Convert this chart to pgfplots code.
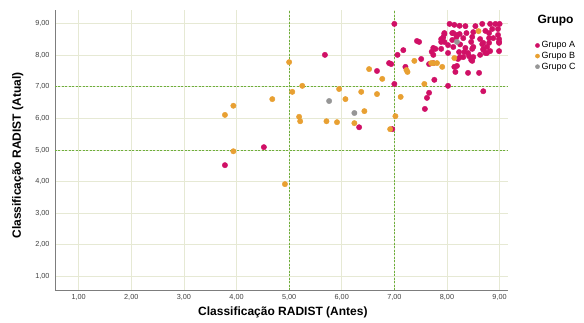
\documentclass[border=0pt]{standalone}
\usepackage{fontspec}
\setmainfont{Liberation Sans}
\usepackage{pgfplots}
\pgfplotsset{compat=1.18}
\definecolor{grpA}{RGB}{208,16,102}
\definecolor{grpB}{RGB}{232,160,50}
\definecolor{grpC}{RGB}{150,150,150}
\definecolor{gridc}{RGB}{230,233,212}
\definecolor{refg}{RGB}{110,175,60}
\definecolor{axg}{RGB}{125,125,125}
\begin{document}
\begin{tikzpicture}
\begin{axis}[
  scale only axis, width=453pt, height=280pt,
  xmin=0.55, xmax=9.16, ymin=0.57, ymax=9.43,
  xtick={1,2,3,4,5,6,7,8,9}, ytick={1,2,3,4,5,6,7,8,9},
  axis lines*=left,
  axis line style={-, draw=axg, line width=0.6pt},
  major tick length=0pt,
  grid=major,
  major grid style={draw=gridc, line width=0.7pt},
  /pgf/number format/fixed,
  /pgf/number format/fixed zerofill,
  /pgf/number format/precision=2,
  /pgf/number format/use comma,
  /pgf/number format/assume math mode=true,
  ticklabel style={font=\fontsize{7.3}{9}\selectfont, text=black!75},
  xticklabel style={yshift=-1pt},
  yticklabel style={xshift=-2pt},
  xlabel={Classificação RADIST (Antes)},
  ylabel={Classificação RADIST (Atual)},
  every axis x label/.style={at={(axis description cs:0.503,-0.08)}, anchor=center, font=\fontsize{12}{14}\selectfont\bfseries},
  every axis y label/.style={at={(axis description cs:-0.082,0.48)}, anchor=center, rotate=90, font=\fontsize{12}{14}\selectfont\bfseries},
  legend style={at={(axis description cs:1.060,0.895)}, anchor=north west,
    draw=none, fill=none, font=\fontsize{9}{10}\selectfont,
    row sep=-1.2pt, inner sep=0pt, cells={anchor=west}},
  legend image code/.code={\draw[#1] plot coordinates {(0pt,0pt)};},
  legend image post style={mark size=2.1pt},
  clip=false,
]
\draw[refg, line width=0.8pt, dash pattern=on 2pt off 1.5pt] (axis cs:5,0.57) -- (axis cs:5,9.43);
\draw[refg, line width=0.8pt, dash pattern=on 2pt off 1.5pt] (axis cs:7,0.57) -- (axis cs:7,9.43);
\draw[refg, line width=0.8pt, dash pattern=on 2pt off 1.5pt] (axis cs:0.55,5) -- (axis cs:9.16,5);
\draw[refg, line width=0.8pt, dash pattern=on 2pt off 1.5pt] (axis cs:0.55,7) -- (axis cs:9.16,7);

\addplot[only marks, mark=*, mark size=2.7pt, mark options={draw=grpA, fill=grpA}] table {
x y
3.78 4.52
4.52 5.09
5.68 8.01
6.67 7.50
6.90 7.75
6.94 7.72
7.00 7.09
6.33 5.72
6.96 5.66
7.06 8.01
7.00 8.99
7.17 8.16
7.21 7.63
7.43 8.45
7.47 8.42
7.51 7.88
7.66 7.72
7.76 7.22
8.02 7.03
7.66 6.81
7.62 6.65
7.58 6.30
8.69 6.86
7.95 8.67
7.89 8.42
7.95 8.42
7.74 8.23
7.78 8.20
7.89 8.20
8.02 8.07
7.74 8.01
8.02 8.32
7.71 8.11
7.74 7.75
8.14 7.63
8.19 7.66
8.16 7.47
8.40 7.44
8.61 7.44
8.25 7.94
8.42 7.97
8.46 7.85
8.63 8.01
8.69 8.39
8.76 8.26
8.76 8.07
8.69 8.17
8.99 8.39
8.99 8.51
8.05 8.99
8.14 8.96
8.24 8.93
8.35 8.92
8.54 8.92
8.67 8.99
8.82 8.99
8.92 8.99
9.00 8.99
8.50 8.73
8.73 8.77
8.86 8.83
8.97 8.83
8.12 8.70
8.19 8.64
8.37 8.70
8.48 8.58
8.80 8.70
8.97 8.64
8.10 8.48
8.31 8.54
8.46 8.42
8.63 8.51
8.80 8.54
8.99 8.42
8.67 8.35
8.80 8.39
8.12 8.26
8.35 8.23
8.50 8.26
8.69 8.20
8.82 8.13
8.99 8.13
8.23 8.10
8.40 8.07
8.31 7.94
8.50 7.94
8.73 8.07
8.21 7.88
8.48 7.82
8.25 8.34
8.48 8.20
8.33 8.10
7.95 8.70
8.10 8.70
8.24 8.67
8.88 8.54
7.89 8.51
7.93 8.57
8.18 8.57
};
\addlegendentry{Grupo A}
\addplot[only marks, mark=*, mark size=2.7pt, mark options={draw=grpB, fill=grpB}] table {
x y
3.78 6.11
3.94 6.40
4.68 6.61
5.00 7.78
5.06 6.84
3.94 4.96
4.92 3.92
6.52 7.56
6.77 7.25
5.25 7.03
5.95 6.93
6.37 6.84
6.67 6.77
6.07 6.61
6.43 6.23
5.19 6.05
5.21 5.91
5.71 5.91
5.91 5.88
6.24 5.85
6.92 5.66
7.02 6.07
7.12 6.68
7.38 7.82
7.23 7.53
7.25 7.47
7.70 7.75
7.74 7.75
7.81 7.75
7.91 7.63
7.57 7.09
8.14 7.91
8.60 8.76
};
\addlegendentry{Grupo B}
\addplot[only marks, mark=*, mark size=2.7pt, mark options={draw=grpC, fill=grpC}] table {
x y
5.76 6.55
6.24 6.17
8.19 8.42
};
\addlegendentry{Grupo C}
\node[font=\fontsize{12}{14}\selectfont\bfseries, anchor=center] at (axis description cs:1.105,0.962) {Grupo};
\end{axis}
\pgfresetboundingbox
\path[use as bounding box] (-55pt,-32pt) rectangle (529pt,290pt);
\end{tikzpicture}
\end{document}
